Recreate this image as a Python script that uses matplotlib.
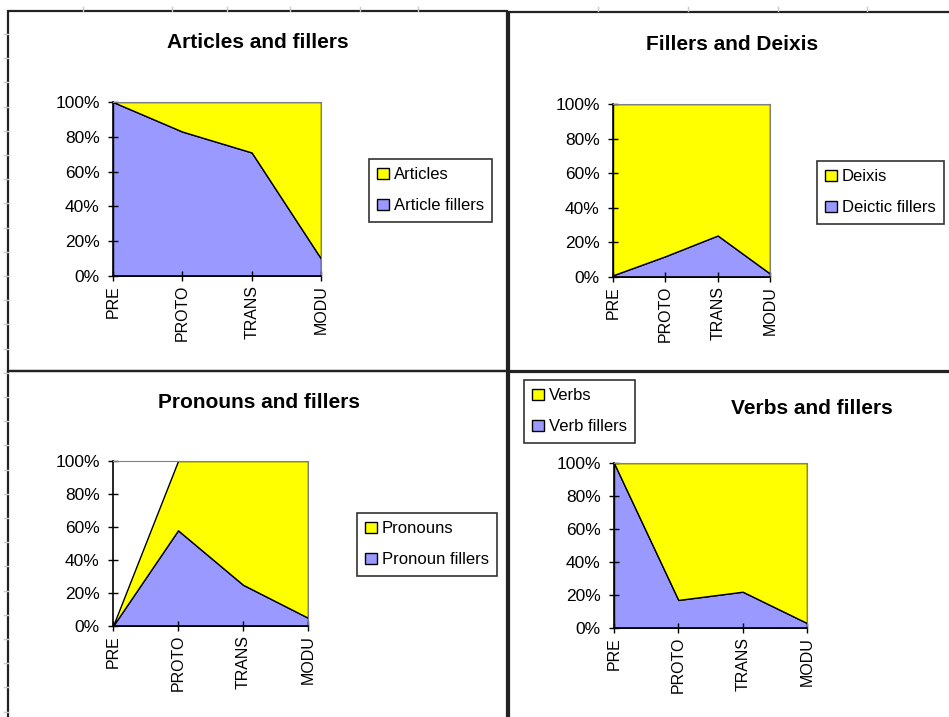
import matplotlib.pyplot as plt
from matplotlib.patches import Patch, Rectangle
from matplotlib.lines import Line2D
from matplotlib.ticker import FuncFormatter

W, H = 949, 717

stages = ['PRE', 'PROTO', 'TRANS', 'MODU']

# shares in percent (100% stacked)
article_fillers = [100, 83, 71, 10]
articles = [0, 17, 29, 90]

deictic_fillers = [1, 12, 24, 2]
deixis = [99, 88, 76, 98]

pronoun_fillers = [0, 58, 25, 5]
pronouns = [0, 42, 75, 95]

verb_fillers = [100, 17, 22, 3]
verbs = [0, 83, 78, 97]

YELLOW = '#ffff00'
BLUE = '#9999ff'

plt.rcParams['font.family'] = ['Liberation Sans', 'DejaVu Sans']

fig = plt.figure(figsize=(W / 100, H / 100), dpi=100)


def px_rect(x0, y0, x1, y1):
    # pixel box (top-left origin) -> figure fraction [left, bottom, width, height]
    return [x0 / W, 1 - y1 / H, (x1 - x0) / W, (y1 - y0) / H]


def draw_chart(box, title, title_xy, fillers, others, labels, leg_xy):
    ax = fig.add_axes(px_rect(*box))
    x = range(len(stages))
    ax.stackplot(x, fillers, others, colors=[BLUE, YELLOW],
                 edgecolor='black', linewidth=1)
    ax.set_xlim(0, len(stages) - 1)
    ax.set_ylim(0, 100)
    ax.set_yticks(range(0, 101, 20))
    ax.yaxis.set_major_formatter(FuncFormatter(lambda v, p: '%d%%' % v))
    ax.set_xticks(list(x))
    ax.set_xticklabels(stages, rotation=90)
    ax.tick_params(direction='inout', length=7, width=1, colors='black')
    ax.tick_params(axis='y', pad=6, labelsize=12.5)
    ax.tick_params(axis='x', pad=3, labelsize=11.5)
    for side in ['top', 'right']:
        ax.spines[side].set_color('#808080')
        ax.spines[side].set_linewidth(0.8)
    for side in ['left', 'bottom']:
        ax.spines[side].set_linewidth(1.2)

    fig.text(title_xy[0] / W, 1 - title_xy[1] / H, title, ha='center',
             va='center', fontsize=15, fontweight='bold')

    handles = [Patch(facecolor=YELLOW, edgecolor='black', linewidth=1),
               Patch(facecolor=BLUE, edgecolor='black', linewidth=1)]
    leg = fig.legend(handles, labels, loc='upper left',
                     bbox_to_anchor=(leg_xy[0] / W, 1 - leg_xy[1] / H),
                     fontsize=12, frameon=True, fancybox=False,
                     handlelength=0.7, handleheight=0.7, handletextpad=0.3,
                     labelspacing=0.95, borderpad=0.5, borderaxespad=0)
    leg.get_frame().set_edgecolor('black')
    leg.get_frame().set_linewidth(1.2)
    return ax


draw_chart((113, 102, 321, 276), 'Articles and fillers', (258, 43),
           article_fillers, articles, ['Articles', 'Article fillers'], (369, 159))
draw_chart((613, 104, 770, 277), 'Fillers and Deixis', (732, 45),
           deictic_fillers, deixis, ['Deixis', 'Deictic fillers'], (817, 161))
draw_chart((113, 461, 308, 626), 'Pronouns and fillers', (259, 403),
           pronoun_fillers, pronouns, ['Pronouns', 'Pronoun fillers'], (357, 513))
draw_chart((614, 463, 807, 628), 'Verbs and fillers', (812, 409),
           verb_fillers, verbs, ['Verbs', 'Verb fillers'], (524, 380))

# chart frames
for x0, y0, x1, y1 in [(8, 11, 507, 371), (509, 12, 960, 371),
                       (8, 371, 507, 730), (509, 372, 960, 730)]:
    fig.add_artist(Rectangle((x0 / W, 1 - y1 / H), (x1 - x0) / W, (y1 - y0) / H,
                             transform=fig.transFigure, fill=False,
                             edgecolor='#222222', linewidth=1.6))

# faint sheet grid stubs along the edges
y = 34
while y < H:
    fig.add_artist(Line2D([4 / W, 8 / W], [1 - y / H, 1 - y / H],
                          transform=fig.transFigure, color='#c8c8c8', lw=1))
    y += 24.2
for xs in [83, 172, 227, 290, 360, 418, 598, 688, 778, 867]:
    fig.add_artist(Line2D([xs / W, xs / W], [1 - 7 / H, 1 - 11 / H],
                          transform=fig.transFigure, color='#c8c8c8', lw=1))

fig.savefig('out.png', dpi=100, facecolor='white')
